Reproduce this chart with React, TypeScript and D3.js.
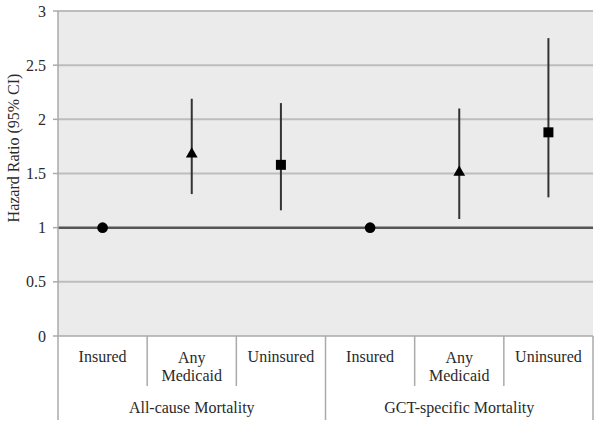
import React from 'react';
import * as d3 from 'd3';

const groups = ['All-cause Mortality', 'GCT-specific Mortality'];
const categories = ['Insured', 'Any Medicaid', 'Uninsured', 'Insured', 'Any Medicaid', 'Uninsured'];
const estimates = [1.0, 1.68, 1.58, 1.0, 1.51, 1.88];
const lowerCI = [1.0, 1.31, 1.16, 1.0, 1.08, 1.28];
const upperCI = [1.0, 2.19, 2.15, 1.0, 2.10, 2.75];
const shapes = ['circle', 'triangle', 'square', 'circle', 'triangle', 'square'];
const yTicks = [0, 0.5, 1, 1.5, 2, 2.5, 3];

const W = 600;
const H = 423;
const left = 58;
const right = 593;
const top = 11;
const bottom = 336;

const App = () => {
  const idx = categories.map((_, i) => i);
  const x = d3.scaleBand<number>().domain(idx).range([left, right]);
  const y = d3.scaleLinear().domain([0, 3]).range([bottom, top]);
  const font = "'Liberation Serif', 'Times New Roman', serif";
  const txt = '#2a2a2a';

  const sym = (s: string) => {
    const t = s === 'circle' ? d3.symbolCircle : s === 'triangle' ? d3.symbolTriangle : d3.symbolSquare;
    const size = s === 'circle' ? 90 : s === 'triangle' ? 60 : 100;
    return d3.symbol().type(t).size(size)() as string;
  };

  return (
    <svg width={W} height={H} style={{ position: 'absolute', left: 0, top: 0 }}>
      <rect x={left} y={top - 1} width={right - left} height={bottom - top + 1} fill="#ebebeb" />
      {yTicks.map(t => (
        <g key={t}>
          {t > 0 && t !== 1 && (
            <line x1={left} x2={right} y1={y(t)} y2={y(t)} stroke="#bdbdbd" strokeWidth={2} />
          )}
          <line x1={left - 5} x2={left} y1={y(t)} y2={y(t)} stroke="#aaa" strokeWidth={1.5} />
          <text x={left - 12} y={y(t)} dy="0.35em" textAnchor="end" fontFamily={font} fontSize={16} fill={txt}>
            {t}
          </text>
        </g>
      ))}
      <line x1={left} x2={right} y1={y(1)} y2={y(1)} stroke="#555" strokeWidth={2.5} />
      <line x1={left} x2={right} y1={bottom} y2={bottom} stroke="#aaa" strokeWidth={1.5} />
      <line x1={left} x2={left} y1={top} y2={420} stroke="#aaa" strokeWidth={1.5} />
      {idx.map(i => {
        const xe = (x(i) as number) + x.bandwidth();
        const isGroupEdge = (i + 1) % 3 === 0;
        return (
          <line key={'sep' + i} x1={xe} x2={xe} y1={bottom} y2={isGroupEdge ? 420 : 386} stroke="#aaa" strokeWidth={1.5} />
        );
      })}
      {idx.map(i => {
        const cx = (x(i) as number) + x.bandwidth() / 2;
        const words = categories[i].split(' ');
        const lines = words.length > 1 ? words : [categories[i]];
        return (
          <text key={'cat' + i} x={cx} y={lines.length > 1 ? 363 : 362} textAnchor="middle" fontFamily={font} fontSize={16} fill={txt}>
            {lines.map((l, j) => (
              <tspan key={j} x={cx} dy={j === 0 ? 0 : 18}>{l}</tspan>
            ))}
          </text>
        );
      })}
      {groups.map((g, gi) => {
        const x0 = x(gi * 3) as number;
        const x1 = (x(gi * 3 + 2) as number) + x.bandwidth();
        return (
          <text key={g} x={(x0 + x1) / 2} y={413} textAnchor="middle" fontFamily={font} fontSize={16} fill={txt}>
            {g}
          </text>
        );
      })}
      <text transform={`translate(19, 148) rotate(-90)`} textAnchor="middle" fontFamily={font} fontSize={16} fill={txt}>
        Hazard Ratio (95% CI)
      </text>
      {idx.map(i => {
        const cx = (x(i) as number) + x.bandwidth() / 2;
        return (
          <g key={'pt' + i}>
            {upperCI[i] !== lowerCI[i] && (
              <line x1={cx} x2={cx} y1={y(upperCI[i])} y2={y(lowerCI[i])} stroke="#333" strokeWidth={2} />
            )}
            <path d={sym(shapes[i])} transform={`translate(${cx},${y(estimates[i])})`} fill="#000" />
          </g>
        );
      })}
    </svg>
  );
};

export default App;
